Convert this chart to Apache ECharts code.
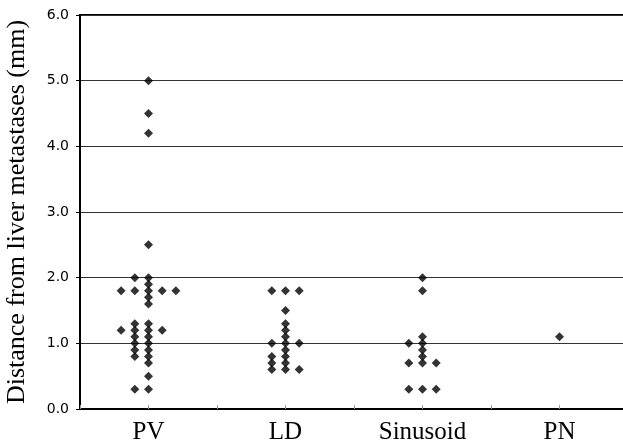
<!DOCTYPE html>
<html>
<head>
<meta charset="utf-8">
<script src="https://cdn.jsdelivr.net/npm/echarts@6/dist/echarts.min.js"></script>
<style>html,body{margin:0;padding:0;background:#fff}#c{width:623px;height:444px}</style>
</head>
<body>
<div id="c"></div>
<script>
const categories = ['PV', 'LD', 'Sinusoid', 'PN'];
const pvValues = [5.0, 4.5, 4.2, 2.5, 2.0, 2.0, 1.9, 1.8, 1.8, 1.8, 1.8, 1.8, 1.7, 1.6,
  1.3, 1.3, 1.2, 1.2, 1.2, 1.2, 1.1, 1.1, 1.0, 1.0, 0.9, 0.9, 0.8, 0.8, 0.7, 0.5, 0.3, 0.3];
const ldValues = [1.8, 1.8, 1.8, 1.5, 1.3, 1.2, 1.1, 1.0, 1.0, 1.0, 0.9, 0.8, 0.8, 0.7, 0.7, 0.6, 0.6, 0.6];
const sinusoidValues = [2.0, 1.8, 1.1, 1.0, 1.0, 0.9, 0.8, 0.7, 0.7, 0.7, 0.3, 0.3, 0.3];
const pnValues = [1.1];
const yTicks = [0, 1, 2, 3, 4, 5, 6];
const yTitle = 'Distance from liver metastases (mm)';

const groups = [pvValues, ldValues, sinusoidValues, pnValues];
const SLOT = 0.2; // horizontal spread between identical values (axis units)

// spread identical values side by side, centred on the category position
const points = [];
groups.forEach((vals, ci) => {
  const counts = {};
  vals.forEach(v => { counts[v] = (counts[v] || 0) + 1; });
  const used = {};
  vals.forEach(v => {
    const n = counts[v];
    const k = used[v] || 0;
    used[v] = k + 1;
    const slot = -Math.floor(n / 2) + k;
    points.push([2 * ci + 1 + slot * SLOT, v]);
  });
});

const chart = echarts.init(document.getElementById('c'), null, { renderer: 'canvas' });
chart.setOption({
  animation: false,
  backgroundColor: '#fff',
  grid: {
    left: 80, top: 15, width: 548, height: 394,
    containLabel: false, outerBoundsMode: 'none',
    show: true, borderColor: '#000', borderWidth: 2, backgroundColor: 'transparent'
  },
  xAxis: {
    type: 'value', min: 0, max: categories.length * 2, interval: 1,
    axisLine: { show: true, lineStyle: { color: '#000', width: 2 } },
    axisTick: { show: true, inside: true, length: 4, lineStyle: { color: '#999', width: 1 } },
    splitLine: { show: false },
    axisLabel: {
      margin: 11,
      fontFamily: 'Liberation Serif', fontSize: 25, color: '#000',
      formatter: v => (v % 2 === 1 ? categories[(v - 1) / 2] : '')
    }
  },
  yAxis: {
    type: 'value', min: yTicks[0], max: yTicks[yTicks.length - 1], interval: 1,
    name: yTitle, nameLocation: 'middle', nameRotate: 90, nameGap: 50,
    nameTextStyle: { fontFamily: 'Liberation Serif', fontSize: 26, color: '#000' },
    axisLine: { show: true, lineStyle: { color: '#000', width: 2 } },
    axisTick: { show: true, inside: false, length: 4, lineStyle: { color: '#000', width: 1 } },
    splitLine: { show: true, lineStyle: { color: '#333', width: 1.2 } },
    axisLabel: {
      margin: 11,
      fontFamily: 'DejaVu Sans', fontSize: 14, color: '#000',
      formatter: v => v.toFixed(1)
    }
  },
  series: [{
    type: 'scatter',
    symbol: 'diamond',
    symbolSize: 9,
    itemStyle: { color: '#000' },
    data: points
  }]
});
</script>
</body>
</html>
